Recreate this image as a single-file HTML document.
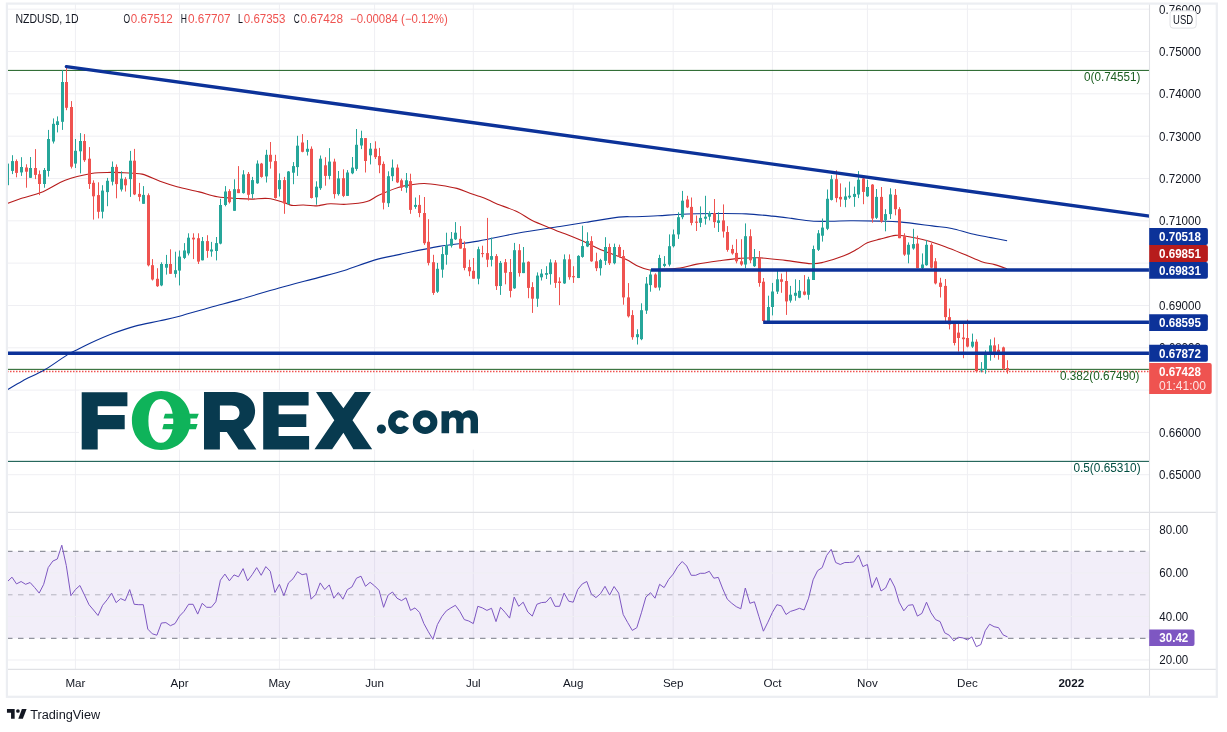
<!DOCTYPE html><html><head><meta charset="utf-8"><style>html,body{margin:0;padding:0;background:#fff;overflow:hidden}svg{will-change:transform}svg text{font-family:"Liberation Sans",sans-serif}</style></head><body><svg width="1227" height="732" viewBox="0 0 1227 732" style="display:block">
<rect width="1227" height="732" fill="#fff"/>
<defs><clipPath id="mp"><rect x="7" y="4" width="1142.5" height="508"/></clipPath><clipPath id="ax"><rect x="1150" y="4.3" width="66" height="508"/></clipPath><clipPath id="rp"><rect x="7" y="513" width="1142.5" height="156"/></clipPath></defs>
<line x1="75.4" y1="3.5" x2="75.4" y2="669.6" stroke="#efeff3" stroke-width="1"/>
<line x1="179.5" y1="3.5" x2="179.5" y2="669.6" stroke="#efeff3" stroke-width="1"/>
<line x1="279.4" y1="3.5" x2="279.4" y2="669.6" stroke="#efeff3" stroke-width="1"/>
<line x1="374.6" y1="3.5" x2="374.6" y2="669.6" stroke="#efeff3" stroke-width="1"/>
<line x1="473.3" y1="3.5" x2="473.3" y2="669.6" stroke="#efeff3" stroke-width="1"/>
<line x1="573.2" y1="3.5" x2="573.2" y2="669.6" stroke="#efeff3" stroke-width="1"/>
<line x1="673.2" y1="3.5" x2="673.2" y2="669.6" stroke="#efeff3" stroke-width="1"/>
<line x1="772.4" y1="3.5" x2="772.4" y2="669.6" stroke="#efeff3" stroke-width="1"/>
<line x1="867.4" y1="3.5" x2="867.4" y2="669.6" stroke="#efeff3" stroke-width="1"/>
<line x1="967.4" y1="3.5" x2="967.4" y2="669.6" stroke="#efeff3" stroke-width="1"/>
<line x1="1071.3" y1="3.5" x2="1071.3" y2="669.6" stroke="#efeff3" stroke-width="1"/>
<line x1="7.0" y1="9.2" x2="1149.5" y2="9.2" stroke="#efeff3" stroke-width="1"/>
<line x1="7.0" y1="51.5" x2="1149.5" y2="51.5" stroke="#efeff3" stroke-width="1"/>
<line x1="7.0" y1="93.8" x2="1149.5" y2="93.8" stroke="#efeff3" stroke-width="1"/>
<line x1="7.0" y1="136.2" x2="1149.5" y2="136.2" stroke="#efeff3" stroke-width="1"/>
<line x1="7.0" y1="178.5" x2="1149.5" y2="178.5" stroke="#efeff3" stroke-width="1"/>
<line x1="7.0" y1="220.8" x2="1149.5" y2="220.8" stroke="#efeff3" stroke-width="1"/>
<line x1="7.0" y1="263.1" x2="1149.5" y2="263.1" stroke="#efeff3" stroke-width="1"/>
<line x1="7.0" y1="305.5" x2="1149.5" y2="305.5" stroke="#efeff3" stroke-width="1"/>
<line x1="7.0" y1="347.8" x2="1149.5" y2="347.8" stroke="#efeff3" stroke-width="1"/>
<line x1="7.0" y1="390.1" x2="1149.5" y2="390.1" stroke="#efeff3" stroke-width="1"/>
<line x1="7.0" y1="432.4" x2="1149.5" y2="432.4" stroke="#efeff3" stroke-width="1"/>
<line x1="7.0" y1="474.7" x2="1149.5" y2="474.7" stroke="#efeff3" stroke-width="1"/>
<rect x="7.0" y="551.3" width="1142.5" height="87.0" fill="#7e57c2" fill-opacity="0.1"/>
<line x1="7.0" y1="529.5" x2="1149.5" y2="529.5" stroke="#efeff3" stroke-width="1"/>
<line x1="7.0" y1="573.0" x2="1149.5" y2="573.0" stroke="#efeff3" stroke-width="1"/>
<line x1="7.0" y1="616.5" x2="1149.5" y2="616.5" stroke="#efeff3" stroke-width="1"/>
<line x1="7.0" y1="660.0" x2="1149.5" y2="660.0" stroke="#efeff3" stroke-width="1"/>
<line x1="7.0" y1="551.3" x2="1149.5" y2="551.3" stroke="#787b86" stroke-opacity="1" stroke-width="1" stroke-dasharray="5.5 5.5"/>
<line x1="7.0" y1="594.8" x2="1149.5" y2="594.8" stroke="#787b86" stroke-opacity="0.5" stroke-width="1" stroke-dasharray="5.5 5.5"/>
<line x1="7.0" y1="638.3" x2="1149.5" y2="638.3" stroke="#787b86" stroke-opacity="1" stroke-width="1" stroke-dasharray="5.5 5.5"/>
<polyline points="7.5,581.5 12.0,577.2 16.5,583.9 21.1,581.5 25.6,584.3 30.1,582.5 34.7,587.6 39.2,593.1 43.7,584.3 48.2,567.6 52.8,561.1 57.3,559.0 61.8,545.2 66.3,565.6 70.9,595.7 75.4,589.6 79.9,585.5 84.5,595.1 89.0,604.7 93.5,610.0 98.0,615.5 102.6,605.3 107.1,599.8 111.6,593.1 116.1,602.6 120.7,598.6 125.2,600.6 129.7,589.6 134.2,604.3 138.8,604.7 143.3,604.7 147.8,629.1 152.3,633.8 156.9,635.2 161.4,623.0 165.9,622.6 170.4,625.7 175.0,623.6 179.5,616.1 184.0,611.4 188.6,604.3 193.1,604.3 197.7,614.1 202.2,603.3 206.7,607.3 211.3,607.3 215.8,601.8 220.4,580.2 224.9,574.1 229.4,580.8 234.0,574.9 238.5,576.8 243.1,568.6 247.6,580.8 252.2,574.7 256.7,567.6 261.2,575.3 265.8,566.6 270.3,571.3 274.9,592.5 279.4,584.3 283.9,595.7 288.5,582.9 293.0,578.8 297.5,571.7 302.1,574.7 306.6,573.7 311.1,599.2 315.7,594.5 320.2,582.9 324.7,589.6 329.3,584.9 333.8,598.2 338.3,592.5 342.9,599.2 347.4,589.6 351.9,587.0 356.5,578.2 361.0,576.2 365.5,586.3 370.1,582.3 374.6,585.9 379.1,590.4 383.6,607.3 388.1,595.1 392.5,592.0 397.0,598.2 401.5,600.6 406.0,597.8 410.5,610.4 415.0,607.9 419.5,612.4 423.9,623.6 428.4,631.8 432.9,639.3 437.4,624.6 441.9,616.5 446.4,610.8 450.9,607.9 455.4,605.3 459.8,611.4 464.3,619.6 468.8,621.0 473.3,623.6 477.8,606.3 482.4,607.9 486.9,610.4 491.5,608.3 496.0,621.6 500.5,607.3 505.1,612.4 509.6,618.1 514.2,597.1 518.7,606.3 523.2,602.2 527.8,612.0 532.3,616.1 536.9,604.3 541.4,602.6 546.0,602.2 550.5,597.1 555.0,606.3 559.6,606.3 564.1,593.1 568.7,601.2 573.2,602.2 577.7,589.6 582.3,583.9 586.8,581.5 591.4,594.1 595.9,597.6 600.5,593.7 605.0,586.3 609.6,595.1 614.1,586.5 618.7,593.1 623.2,614.5 627.7,622.6 632.3,630.4 636.8,627.7 641.4,612.8 645.9,597.1 650.5,592.7 655.0,598.2 659.6,584.3 664.1,587.6 668.7,579.4 673.2,574.1 677.7,566.6 682.2,561.5 686.7,566.0 691.2,575.3 695.7,575.3 700.3,573.3 704.8,573.3 709.3,571.3 713.8,578.2 718.3,577.4 722.8,589.0 727.3,599.2 731.8,603.3 736.3,606.7 740.8,608.8 745.3,588.0 749.9,603.3 754.4,601.8 758.9,616.5 763.4,631.2 767.9,622.2 772.4,612.4 776.9,604.7 781.4,605.9 786.0,614.5 790.5,611.4 795.0,610.0 799.5,608.3 804.1,610.0 808.6,598.2 813.1,579.8 817.6,570.7 822.2,567.6 826.7,555.4 831.2,549.3 835.7,562.5 840.3,564.5 844.8,562.5 849.3,562.5 853.8,561.9 858.4,555.0 862.9,566.6 867.4,564.5 871.9,587.6 876.5,577.4 881.0,591.0 885.6,588.0 890.1,578.2 894.7,587.0 899.2,602.2 903.8,610.8 908.3,605.3 912.9,604.7 917.4,616.1 921.9,613.4 926.5,602.2 931.0,612.8 935.6,619.6 940.1,621.6 944.7,632.8 949.2,635.2 953.8,640.9 958.3,637.3 962.9,637.9 967.4,639.9 971.9,636.9 976.3,646.7 980.8,644.6 985.2,630.8 989.6,624.2 994.1,626.7 998.6,627.7 1003.0,634.8 1007.5,636.9" fill="none" stroke="#7e57c2" stroke-width="1" stroke-linejoin="round"/>
<g clip-path="url(#mp)">
<line x1="7.0" y1="70.4" x2="1149.5" y2="70.4" stroke="#1b5e20" stroke-width="1"/>
<line x1="7.0" y1="369.35" x2="1149.5" y2="369.35" stroke="#1b5e20" stroke-width="1"/>
<line x1="7.0" y1="461.35" x2="1149.5" y2="461.35" stroke="#004d40" stroke-width="1"/>
<line x1="7.0" y1="371.5" x2="1149.5" y2="371.5" stroke="#ef5350" stroke-width="1.5" stroke-dasharray="1.5 1.5"/>
<path d="M7.20,389.90 C9.75,388.40 16.18,384.28 22.50,380.90 C28.82,377.52 37.58,373.98 45.10,369.60 C52.62,365.22 62.10,357.98 67.60,354.60 C73.10,351.22 74.35,351.18 78.10,349.30 C81.85,347.42 84.33,345.92 90.10,343.30 C95.87,340.68 105.18,336.47 112.70,333.60 C120.22,330.73 127.32,328.23 135.20,326.10 C143.08,323.97 152.62,322.45 160.00,320.80 C167.38,319.15 171.17,318.42 179.50,316.20 C187.83,313.98 199.92,310.30 210.00,307.50 C220.08,304.70 228.48,302.65 240.00,299.40 C251.52,296.15 266.07,291.63 279.10,288.00 C292.13,284.37 307.33,280.53 318.20,277.60 C329.07,274.67 334.95,273.32 344.30,270.40 C353.65,267.48 365.02,262.77 374.30,260.10 C383.58,257.43 389.20,256.68 400.00,254.40 C410.80,252.12 426.07,248.62 439.10,246.40 C452.13,244.18 465.17,243.30 478.20,241.10 C491.23,238.90 503.67,235.63 517.30,233.20 C530.93,230.77 548.53,228.32 560.00,226.50 C571.47,224.68 576.32,223.87 586.10,222.30 C595.88,220.73 610.45,218.03 618.70,217.10 C626.95,216.17 629.08,216.92 635.60,216.70 C642.12,216.48 650.85,216.17 657.80,215.80 C664.75,215.43 670.78,214.85 677.30,214.50 C683.82,214.15 689.78,213.87 696.90,213.70 C704.02,213.53 711.80,213.47 720.00,213.50 C728.20,213.53 737.40,213.47 746.10,213.90 C754.80,214.33 764.60,215.35 772.20,216.10 C779.80,216.85 785.18,217.58 791.70,218.40 C798.22,219.22 804.78,220.52 811.30,221.00 C817.82,221.48 824.28,221.33 830.80,221.30 C837.32,221.27 842.20,220.83 850.40,220.80 C858.60,220.77 871.80,220.92 880.00,221.10 C888.20,221.28 890.90,221.10 899.60,221.90 C908.30,222.70 923.52,224.80 932.20,225.90 C940.88,227.00 945.18,227.20 951.70,228.50 C958.22,229.80 964.78,232.18 971.30,233.70 C977.82,235.22 984.83,236.42 990.80,237.60 C996.77,238.78 1004.38,240.27 1007.10,240.80" fill="none" stroke="#0c3299" stroke-width="1.1"/>
<path d="M7.20,203.50 C9.27,202.73 13.63,200.87 19.60,198.90 C25.57,196.93 35.40,194.82 43.00,191.70 C50.60,188.58 57.15,183.23 65.20,180.20 C73.25,177.17 83.70,174.80 91.30,173.50 C98.90,172.20 105.37,172.52 110.80,172.40 C116.23,172.28 118.68,172.52 123.90,172.80 C129.12,173.08 136.08,172.68 142.10,174.10 C148.12,175.52 154.18,179.20 160.00,181.30 C165.82,183.40 170.48,184.93 177.00,186.70 C183.52,188.47 192.37,190.22 199.10,191.90 C205.83,193.58 210.88,195.70 217.40,196.80 C223.92,197.90 232.55,198.12 238.20,198.50 C243.85,198.88 246.30,199.10 251.30,199.10 C256.30,199.10 262.77,197.95 268.20,198.50 C273.63,199.05 279.98,201.25 283.90,202.40 C287.82,203.55 288.45,204.97 291.70,205.40 C294.95,205.83 299.50,204.92 303.40,205.00 C307.30,205.08 312.33,205.83 315.10,205.90 C317.87,205.97 317.45,205.77 320.00,205.40 C322.55,205.03 326.05,203.88 330.40,203.70 C334.75,203.52 340.02,204.67 346.10,204.30 C352.18,203.93 361.47,203.02 366.90,201.50 C372.33,199.98 373.48,197.55 378.70,195.20 C383.92,192.85 392.77,189.13 398.20,187.40 C403.63,185.67 406.95,185.45 411.30,184.80 C415.65,184.15 419.52,183.43 424.30,183.50 C429.08,183.57 434.57,184.38 440.00,185.20 C445.43,186.02 451.92,187.07 456.90,188.40 C461.88,189.73 466.05,191.85 469.90,193.20 C473.75,194.55 476.87,195.37 480.00,196.50 C483.13,197.63 485.95,198.80 488.70,200.00 C491.45,201.20 491.73,201.75 496.50,203.70 C501.27,205.65 511.43,208.95 517.30,211.70 C523.17,214.45 526.25,217.48 531.70,220.20 C537.15,222.92 545.28,226.05 550.00,228.00 C554.72,229.95 554.85,229.87 560.00,231.90 C565.15,233.93 573.73,237.08 580.90,240.20 C588.07,243.32 595.62,247.45 603.00,250.60 C610.38,253.75 619.33,256.48 625.20,259.10 C631.07,261.72 634.28,264.52 638.20,266.30 C642.12,268.08 645.43,269.27 648.70,269.80 C651.97,270.33 652.58,269.80 657.80,269.50 C663.02,269.20 673.48,268.90 680.00,268.00 C686.52,267.10 690.23,265.32 696.90,264.10 C703.57,262.88 712.88,261.65 720.00,260.70 C727.12,259.75 733.08,258.88 739.60,258.40 C746.12,257.92 751.50,257.47 759.10,257.80 C766.70,258.13 776.50,259.42 785.20,260.40 C793.90,261.38 804.78,263.43 811.30,263.70 C817.82,263.97 818.87,263.32 824.30,262.00 C829.73,260.68 838.47,257.92 843.90,255.80 C849.33,253.68 853.00,251.47 856.90,249.30 C860.80,247.13 863.45,244.50 867.30,242.80 C871.15,241.10 875.28,240.33 880.00,239.10 C884.72,237.87 891.25,235.87 895.60,235.40 C899.95,234.93 901.10,235.50 906.10,236.30 C911.10,237.10 919.08,238.47 925.60,240.20 C932.12,241.93 938.68,244.32 945.20,246.70 C951.72,249.08 958.62,252.00 964.70,254.50 C970.78,257.00 976.70,260.02 981.70,261.70 C986.70,263.38 990.47,263.40 994.70,264.60 C998.93,265.80 1005.03,268.18 1007.10,268.90" fill="none" stroke="#b71c1c" stroke-width="1.1"/>
<rect x="7.0" y="163.1" width="1" height="22.1" fill="#26a69a"/>
<rect x="6.0" y="163.6" width="3" height="21.6" fill="#26a69a"/>
<rect x="12.0" y="155.2" width="1" height="18.9" fill="#26a69a"/>
<rect x="11.0" y="161.1" width="3" height="9.8" fill="#26a69a"/>
<rect x="16.0" y="159.4" width="1" height="17.9" fill="#ef5350"/>
<rect x="15.0" y="161.1" width="3" height="11.8" fill="#ef5350"/>
<rect x="21.0" y="157.2" width="1" height="18.7" fill="#26a69a"/>
<rect x="20.0" y="167.0" width="3" height="5.4" fill="#26a69a"/>
<rect x="26.0" y="164.3" width="1" height="23.4" fill="#ef5350"/>
<rect x="25.0" y="167.5" width="3" height="4.2" fill="#ef5350"/>
<rect x="30.0" y="157.0" width="1" height="20.9" fill="#26a69a"/>
<rect x="29.0" y="168.0" width="3" height="9.8" fill="#26a69a"/>
<rect x="35.0" y="149.1" width="1" height="30.0" fill="#ef5350"/>
<rect x="34.0" y="168.0" width="3" height="6.9" fill="#ef5350"/>
<rect x="39.0" y="170.5" width="1" height="24.6" fill="#ef5350"/>
<rect x="38.0" y="174.2" width="3" height="9.8" fill="#ef5350"/>
<rect x="44.0" y="168.0" width="1" height="19.7" fill="#26a69a"/>
<rect x="43.0" y="170.0" width="3" height="14.0" fill="#26a69a"/>
<rect x="48.0" y="129.9" width="1" height="46.7" fill="#26a69a"/>
<rect x="47.0" y="139.0" width="3" height="32.0" fill="#26a69a"/>
<rect x="53.0" y="118.4" width="1" height="25.1" fill="#26a69a"/>
<rect x="52.0" y="123.8" width="3" height="17.7" fill="#26a69a"/>
<rect x="57.0" y="116.4" width="1" height="16.0" fill="#26a69a"/>
<rect x="56.0" y="121.3" width="3" height="3.7" fill="#26a69a"/>
<rect x="62.0" y="70.2" width="1" height="59.7" fill="#26a69a"/>
<rect x="61.0" y="82.0" width="3" height="39.8" fill="#26a69a"/>
<rect x="66.0" y="65.2" width="1" height="45.0" fill="#ef5350"/>
<rect x="65.0" y="82.0" width="3" height="25.8" fill="#ef5350"/>
<rect x="71.0" y="101.1" width="1" height="67.4" fill="#ef5350"/>
<rect x="70.0" y="107.0" width="3" height="59.7" fill="#ef5350"/>
<rect x="75.0" y="139.0" width="1" height="29.0" fill="#26a69a"/>
<rect x="74.0" y="150.8" width="3" height="12.8" fill="#26a69a"/>
<rect x="80.0" y="133.1" width="1" height="40.3" fill="#26a69a"/>
<rect x="79.0" y="141.0" width="3" height="10.3" fill="#26a69a"/>
<rect x="84.0" y="134.1" width="1" height="27.8" fill="#ef5350"/>
<rect x="83.0" y="141.0" width="3" height="19.2" fill="#ef5350"/>
<rect x="89.0" y="147.1" width="1" height="41.8" fill="#ef5350"/>
<rect x="88.0" y="158.7" width="3" height="25.3" fill="#ef5350"/>
<rect x="93.0" y="180.3" width="1" height="39.3" fill="#ef5350"/>
<rect x="92.0" y="182.8" width="3" height="13.5" fill="#ef5350"/>
<rect x="98.0" y="182.3" width="1" height="36.1" fill="#ef5350"/>
<rect x="97.0" y="195.1" width="3" height="16.7" fill="#ef5350"/>
<rect x="102.0" y="185.2" width="1" height="33.2" fill="#26a69a"/>
<rect x="101.0" y="190.6" width="3" height="21.1" fill="#26a69a"/>
<rect x="107.0" y="177.9" width="1" height="28.3" fill="#26a69a"/>
<rect x="106.0" y="180.8" width="3" height="11.3" fill="#26a69a"/>
<rect x="112.0" y="161.5" width="1" height="23.9" fill="#26a69a"/>
<rect x="111.0" y="166.9" width="3" height="14.8" fill="#26a69a"/>
<rect x="116.0" y="164.4" width="1" height="33.9" fill="#ef5350"/>
<rect x="115.0" y="166.9" width="3" height="17.2" fill="#ef5350"/>
<rect x="121.0" y="171.3" width="1" height="20.2" fill="#26a69a"/>
<rect x="120.0" y="178.7" width="3" height="10.8" fill="#26a69a"/>
<rect x="125.0" y="177.2" width="1" height="14.3" fill="#ef5350"/>
<rect x="124.0" y="179.2" width="3" height="6.1" fill="#ef5350"/>
<rect x="130.0" y="150.9" width="1" height="46.0" fill="#26a69a"/>
<rect x="129.0" y="160.7" width="3" height="18.4" fill="#26a69a"/>
<rect x="134.0" y="148.9" width="1" height="46.2" fill="#ef5350"/>
<rect x="133.0" y="160.7" width="3" height="33.7" fill="#ef5350"/>
<rect x="139.0" y="182.9" width="1" height="18.4" fill="#ef5350"/>
<rect x="138.0" y="193.9" width="3" height="3.0" fill="#ef5350"/>
<rect x="143.0" y="186.1" width="1" height="17.7" fill="#26a69a"/>
<rect x="142.0" y="194.9" width="3" height="8.9" fill="#26a69a"/>
<rect x="148.0" y="193.4" width="1" height="73.0" fill="#ef5350"/>
<rect x="147.0" y="195.2" width="3" height="70.1" fill="#ef5350"/>
<rect x="152.0" y="259.1" width="1" height="21.4" fill="#ef5350"/>
<rect x="151.0" y="265.2" width="3" height="14.3" fill="#ef5350"/>
<rect x="157.0" y="268.2" width="1" height="18.7" fill="#ef5350"/>
<rect x="156.0" y="278.8" width="3" height="7.4" fill="#ef5350"/>
<rect x="161.0" y="262.3" width="1" height="23.9" fill="#26a69a"/>
<rect x="160.0" y="264.0" width="3" height="21.4" fill="#26a69a"/>
<rect x="166.0" y="254.9" width="1" height="19.7" fill="#26a69a"/>
<rect x="165.0" y="264.0" width="3" height="3.7" fill="#26a69a"/>
<rect x="170.0" y="249.3" width="1" height="24.6" fill="#ef5350"/>
<rect x="169.0" y="264.0" width="3" height="9.8" fill="#ef5350"/>
<rect x="175.0" y="251.7" width="1" height="25.8" fill="#26a69a"/>
<rect x="174.0" y="270.2" width="3" height="3.7" fill="#26a69a"/>
<rect x="179.0" y="250.5" width="1" height="34.9" fill="#26a69a"/>
<rect x="178.0" y="256.6" width="3" height="14.0" fill="#26a69a"/>
<rect x="184.0" y="243.1" width="1" height="16.0" fill="#26a69a"/>
<rect x="183.0" y="250.5" width="3" height="7.4" fill="#26a69a"/>
<rect x="188.0" y="233.3" width="1" height="22.1" fill="#26a69a"/>
<rect x="187.0" y="237.7" width="3" height="15.7" fill="#26a69a"/>
<rect x="193.0" y="233.3" width="1" height="25.8" fill="#ef5350"/>
<rect x="192.0" y="237.7" width="3" height="1.7" fill="#ef5350"/>
<rect x="198.0" y="233.3" width="1" height="30.7" fill="#ef5350"/>
<rect x="197.0" y="238.2" width="3" height="23.4" fill="#ef5350"/>
<rect x="202.0" y="237.0" width="1" height="23.4" fill="#26a69a"/>
<rect x="201.0" y="241.1" width="3" height="19.2" fill="#26a69a"/>
<rect x="207.0" y="235.2" width="1" height="22.6" fill="#ef5350"/>
<rect x="206.0" y="241.1" width="3" height="9.8" fill="#ef5350"/>
<rect x="211.0" y="241.9" width="1" height="14.8" fill="#26a69a"/>
<rect x="210.0" y="249.5" width="3" height="2.0" fill="#26a69a"/>
<rect x="216.0" y="237.0" width="1" height="23.4" fill="#26a69a"/>
<rect x="215.0" y="243.1" width="3" height="7.9" fill="#26a69a"/>
<rect x="220.0" y="198.8" width="1" height="45.5" fill="#26a69a"/>
<rect x="219.0" y="205.0" width="3" height="38.6" fill="#26a69a"/>
<rect x="225.0" y="186.1" width="1" height="20.2" fill="#26a69a"/>
<rect x="224.0" y="191.5" width="3" height="13.5" fill="#26a69a"/>
<rect x="229.0" y="189.2" width="1" height="14.3" fill="#ef5350"/>
<rect x="228.0" y="191.1" width="3" height="11.1" fill="#ef5350"/>
<rect x="234.0" y="179.3" width="1" height="31.5" fill="#26a69a"/>
<rect x="233.0" y="189.2" width="3" height="21.6" fill="#26a69a"/>
<rect x="238.0" y="166.1" width="1" height="27.0" fill="#ef5350"/>
<rect x="237.0" y="189.2" width="3" height="3.9" fill="#ef5350"/>
<rect x="243.0" y="170.2" width="1" height="23.4" fill="#26a69a"/>
<rect x="242.0" y="174.4" width="3" height="18.7" fill="#26a69a"/>
<rect x="248.0" y="172.0" width="1" height="28.5" fill="#ef5350"/>
<rect x="247.0" y="173.9" width="3" height="20.9" fill="#ef5350"/>
<rect x="252.0" y="176.9" width="1" height="21.6" fill="#26a69a"/>
<rect x="251.0" y="180.1" width="3" height="14.0" fill="#26a69a"/>
<rect x="257.0" y="160.4" width="1" height="23.4" fill="#26a69a"/>
<rect x="256.0" y="163.6" width="3" height="19.7" fill="#26a69a"/>
<rect x="261.0" y="162.9" width="1" height="14.8" fill="#ef5350"/>
<rect x="260.0" y="163.6" width="3" height="13.3" fill="#ef5350"/>
<rect x="266.0" y="149.8" width="1" height="32.7" fill="#26a69a"/>
<rect x="265.0" y="154.8" width="3" height="21.6" fill="#26a69a"/>
<rect x="270.0" y="142.0" width="1" height="26.6" fill="#ef5350"/>
<rect x="269.0" y="154.8" width="3" height="6.9" fill="#ef5350"/>
<rect x="275.0" y="154.8" width="1" height="43.8" fill="#ef5350"/>
<rect x="274.0" y="161.1" width="3" height="36.9" fill="#ef5350"/>
<rect x="279.0" y="173.4" width="1" height="23.1" fill="#26a69a"/>
<rect x="278.0" y="180.1" width="3" height="9.1" fill="#26a69a"/>
<rect x="284.0" y="176.9" width="1" height="36.9" fill="#ef5350"/>
<rect x="283.0" y="180.1" width="3" height="23.4" fill="#ef5350"/>
<rect x="288.0" y="171.0" width="1" height="33.7" fill="#26a69a"/>
<rect x="287.0" y="171.5" width="3" height="32.5" fill="#26a69a"/>
<rect x="293.0" y="162.1" width="1" height="22.1" fill="#26a69a"/>
<rect x="292.0" y="166.1" width="3" height="6.6" fill="#26a69a"/>
<rect x="297.0" y="135.8" width="1" height="40.1" fill="#26a69a"/>
<rect x="296.0" y="145.7" width="3" height="21.4" fill="#26a69a"/>
<rect x="302.0" y="134.1" width="1" height="18.2" fill="#ef5350"/>
<rect x="301.0" y="142.5" width="3" height="9.3" fill="#ef5350"/>
<rect x="307.0" y="140.0" width="1" height="15.5" fill="#26a69a"/>
<rect x="306.0" y="148.8" width="3" height="3.0" fill="#26a69a"/>
<rect x="311.0" y="146.4" width="1" height="52.1" fill="#ef5350"/>
<rect x="310.0" y="148.8" width="3" height="49.2" fill="#ef5350"/>
<rect x="316.0" y="181.3" width="1" height="23.4" fill="#26a69a"/>
<rect x="315.0" y="186.7" width="3" height="10.6" fill="#26a69a"/>
<rect x="320.0" y="155.5" width="1" height="34.4" fill="#26a69a"/>
<rect x="319.0" y="158.7" width="3" height="29.5" fill="#26a69a"/>
<rect x="325.0" y="157.2" width="1" height="28.5" fill="#ef5350"/>
<rect x="324.0" y="165.3" width="3" height="10.6" fill="#ef5350"/>
<rect x="329.0" y="148.1" width="1" height="31.2" fill="#26a69a"/>
<rect x="328.0" y="161.6" width="3" height="14.3" fill="#26a69a"/>
<rect x="334.0" y="158.7" width="1" height="39.8" fill="#ef5350"/>
<rect x="333.0" y="161.6" width="3" height="32.5" fill="#ef5350"/>
<rect x="338.0" y="171.0" width="1" height="24.6" fill="#26a69a"/>
<rect x="337.0" y="178.4" width="3" height="15.7" fill="#26a69a"/>
<rect x="343.0" y="169.3" width="1" height="27.8" fill="#ef5350"/>
<rect x="342.0" y="178.2" width="3" height="17.7" fill="#ef5350"/>
<rect x="347.0" y="170.1" width="1" height="25.8" fill="#26a69a"/>
<rect x="346.0" y="172.5" width="3" height="23.4" fill="#26a69a"/>
<rect x="352.0" y="157.0" width="1" height="17.2" fill="#26a69a"/>
<rect x="351.0" y="167.6" width="3" height="5.7" fill="#26a69a"/>
<rect x="356.0" y="129.0" width="1" height="41.8" fill="#26a69a"/>
<rect x="355.0" y="144.8" width="3" height="24.1" fill="#26a69a"/>
<rect x="361.0" y="130.7" width="1" height="18.4" fill="#26a69a"/>
<rect x="360.0" y="138.1" width="3" height="7.4" fill="#26a69a"/>
<rect x="365.0" y="138.1" width="1" height="34.4" fill="#ef5350"/>
<rect x="364.0" y="138.1" width="3" height="22.9" fill="#ef5350"/>
<rect x="370.0" y="143.0" width="1" height="21.4" fill="#26a69a"/>
<rect x="369.0" y="148.7" width="3" height="6.6" fill="#26a69a"/>
<rect x="375.0" y="141.3" width="1" height="17.7" fill="#ef5350"/>
<rect x="374.0" y="148.7" width="3" height="8.4" fill="#ef5350"/>
<rect x="379.0" y="147.9" width="1" height="25.3" fill="#ef5350"/>
<rect x="378.0" y="156.1" width="3" height="9.1" fill="#ef5350"/>
<rect x="383.0" y="161.5" width="1" height="47.9" fill="#ef5350"/>
<rect x="382.0" y="163.9" width="3" height="38.8" fill="#ef5350"/>
<rect x="388.0" y="171.3" width="1" height="35.7" fill="#26a69a"/>
<rect x="387.0" y="176.2" width="3" height="27.0" fill="#26a69a"/>
<rect x="392.0" y="159.5" width="1" height="21.6" fill="#26a69a"/>
<rect x="391.0" y="167.6" width="3" height="8.6" fill="#26a69a"/>
<rect x="397.0" y="164.4" width="1" height="18.7" fill="#ef5350"/>
<rect x="396.0" y="167.6" width="3" height="14.8" fill="#ef5350"/>
<rect x="401.0" y="178.6" width="1" height="12.3" fill="#ef5350"/>
<rect x="400.0" y="180.3" width="3" height="7.4" fill="#ef5350"/>
<rect x="406.0" y="173.0" width="1" height="19.7" fill="#26a69a"/>
<rect x="405.0" y="180.3" width="3" height="7.4" fill="#26a69a"/>
<rect x="410.0" y="173.7" width="1" height="40.1" fill="#ef5350"/>
<rect x="409.0" y="181.1" width="3" height="28.8" fill="#ef5350"/>
<rect x="415.0" y="197.5" width="1" height="11.3" fill="#26a69a"/>
<rect x="414.0" y="204.9" width="3" height="2.0" fill="#26a69a"/>
<rect x="419.0" y="195.1" width="1" height="22.1" fill="#ef5350"/>
<rect x="418.0" y="204.9" width="3" height="8.1" fill="#ef5350"/>
<rect x="424.0" y="197.0" width="1" height="47.9" fill="#ef5350"/>
<rect x="423.0" y="213.0" width="3" height="30.2" fill="#ef5350"/>
<rect x="428.0" y="219.2" width="1" height="46.2" fill="#ef5350"/>
<rect x="427.0" y="241.8" width="3" height="21.1" fill="#ef5350"/>
<rect x="433.0" y="254.8" width="1" height="40.1" fill="#ef5350"/>
<rect x="432.0" y="262.2" width="3" height="30.7" fill="#ef5350"/>
<rect x="437.0" y="262.9" width="1" height="30.0" fill="#26a69a"/>
<rect x="436.0" y="268.8" width="3" height="22.9" fill="#26a69a"/>
<rect x="442.0" y="246.7" width="1" height="31.0" fill="#26a69a"/>
<rect x="441.0" y="254.1" width="3" height="15.5" fill="#26a69a"/>
<rect x="446.0" y="232.7" width="1" height="32.0" fill="#26a69a"/>
<rect x="445.0" y="245.0" width="3" height="9.8" fill="#26a69a"/>
<rect x="451.0" y="232.0" width="1" height="15.5" fill="#26a69a"/>
<rect x="450.0" y="238.8" width="3" height="6.9" fill="#26a69a"/>
<rect x="455.0" y="222.1" width="1" height="17.9" fill="#26a69a"/>
<rect x="454.0" y="232.7" width="3" height="6.6" fill="#26a69a"/>
<rect x="460.0" y="226.1" width="1" height="22.6" fill="#ef5350"/>
<rect x="459.0" y="238.8" width="3" height="9.8" fill="#ef5350"/>
<rect x="464.0" y="241.3" width="1" height="29.0" fill="#ef5350"/>
<rect x="463.0" y="248.2" width="3" height="19.7" fill="#ef5350"/>
<rect x="469.0" y="259.7" width="1" height="16.5" fill="#ef5350"/>
<rect x="468.0" y="267.1" width="3" height="4.2" fill="#ef5350"/>
<rect x="473.0" y="258.0" width="1" height="20.7" fill="#ef5350"/>
<rect x="472.0" y="270.8" width="3" height="7.9" fill="#ef5350"/>
<rect x="478.0" y="246.7" width="1" height="37.6" fill="#26a69a"/>
<rect x="477.0" y="249.2" width="3" height="29.5" fill="#26a69a"/>
<rect x="482.0" y="245.7" width="1" height="11.6" fill="#ef5350"/>
<rect x="481.0" y="253.1" width="3" height="1.0" fill="#ef5350"/>
<rect x="487.0" y="217.9" width="1" height="49.2" fill="#ef5350"/>
<rect x="486.0" y="253.1" width="3" height="6.6" fill="#ef5350"/>
<rect x="491.0" y="237.6" width="1" height="28.8" fill="#26a69a"/>
<rect x="490.0" y="256.1" width="3" height="3.7" fill="#26a69a"/>
<rect x="496.0" y="254.1" width="1" height="35.9" fill="#ef5350"/>
<rect x="495.0" y="256.1" width="3" height="30.0" fill="#ef5350"/>
<rect x="500.0" y="261.0" width="1" height="33.9" fill="#26a69a"/>
<rect x="499.0" y="262.9" width="3" height="23.1" fill="#26a69a"/>
<rect x="505.0" y="259.0" width="1" height="25.3" fill="#ef5350"/>
<rect x="504.0" y="262.2" width="3" height="10.6" fill="#ef5350"/>
<rect x="510.0" y="259.0" width="1" height="38.4" fill="#ef5350"/>
<rect x="509.0" y="272.0" width="3" height="18.9" fill="#ef5350"/>
<rect x="514.0" y="242.9" width="1" height="46.0" fill="#26a69a"/>
<rect x="513.0" y="250.2" width="3" height="38.1" fill="#26a69a"/>
<rect x="519.0" y="244.1" width="1" height="32.5" fill="#ef5350"/>
<rect x="518.0" y="250.2" width="3" height="22.9" fill="#ef5350"/>
<rect x="523.0" y="247.0" width="1" height="26.1" fill="#26a69a"/>
<rect x="522.0" y="262.5" width="3" height="10.6" fill="#26a69a"/>
<rect x="528.0" y="261.3" width="1" height="36.9" fill="#ef5350"/>
<rect x="527.0" y="261.8" width="3" height="26.1" fill="#ef5350"/>
<rect x="532.0" y="282.2" width="1" height="30.7" fill="#ef5350"/>
<rect x="531.0" y="287.1" width="3" height="11.6" fill="#ef5350"/>
<rect x="537.0" y="272.4" width="1" height="34.4" fill="#26a69a"/>
<rect x="536.0" y="275.6" width="3" height="23.1" fill="#26a69a"/>
<rect x="541.0" y="269.2" width="1" height="11.3" fill="#26a69a"/>
<rect x="540.0" y="273.6" width="3" height="3.7" fill="#26a69a"/>
<rect x="546.0" y="266.2" width="1" height="12.8" fill="#26a69a"/>
<rect x="545.0" y="273.1" width="3" height="1.7" fill="#26a69a"/>
<rect x="550.0" y="259.3" width="1" height="25.3" fill="#26a69a"/>
<rect x="549.0" y="262.5" width="3" height="11.6" fill="#26a69a"/>
<rect x="555.0" y="260.1" width="1" height="27.8" fill="#ef5350"/>
<rect x="554.0" y="262.5" width="3" height="20.4" fill="#ef5350"/>
<rect x="559.0" y="277.3" width="1" height="27.8" fill="#ef5350"/>
<rect x="558.0" y="281.5" width="3" height="1.5" fill="#ef5350"/>
<rect x="564.0" y="254.4" width="1" height="29.5" fill="#26a69a"/>
<rect x="563.0" y="259.3" width="3" height="24.1" fill="#26a69a"/>
<rect x="569.0" y="254.4" width="1" height="25.3" fill="#ef5350"/>
<rect x="568.0" y="259.3" width="3" height="17.9" fill="#ef5350"/>
<rect x="573.0" y="266.2" width="1" height="16.7" fill="#ef5350"/>
<rect x="572.0" y="276.1" width="3" height="1.2" fill="#ef5350"/>
<rect x="578.0" y="255.2" width="1" height="22.9" fill="#26a69a"/>
<rect x="577.0" y="255.9" width="3" height="22.1" fill="#26a69a"/>
<rect x="582.0" y="225.7" width="1" height="32.0" fill="#26a69a"/>
<rect x="581.0" y="246.1" width="3" height="10.8" fill="#26a69a"/>
<rect x="587.0" y="232.3" width="1" height="14.8" fill="#26a69a"/>
<rect x="586.0" y="241.1" width="3" height="5.4" fill="#26a69a"/>
<rect x="591.0" y="236.2" width="1" height="25.6" fill="#ef5350"/>
<rect x="590.0" y="241.1" width="3" height="20.2" fill="#ef5350"/>
<rect x="596.0" y="252.7" width="1" height="18.4" fill="#ef5350"/>
<rect x="595.0" y="261.3" width="3" height="6.9" fill="#ef5350"/>
<rect x="600.0" y="258.8" width="1" height="16.7" fill="#26a69a"/>
<rect x="599.0" y="260.1" width="3" height="8.1" fill="#26a69a"/>
<rect x="605.0" y="237.2" width="1" height="27.8" fill="#26a69a"/>
<rect x="604.0" y="247.0" width="3" height="13.8" fill="#26a69a"/>
<rect x="609.0" y="243.6" width="1" height="21.4" fill="#ef5350"/>
<rect x="608.0" y="247.0" width="3" height="16.2" fill="#ef5350"/>
<rect x="614.0" y="243.6" width="1" height="20.7" fill="#26a69a"/>
<rect x="613.0" y="247.0" width="3" height="16.2" fill="#26a69a"/>
<rect x="619.0" y="244.6" width="1" height="13.0" fill="#ef5350"/>
<rect x="618.0" y="247.0" width="3" height="9.8" fill="#ef5350"/>
<rect x="623.0" y="249.9" width="1" height="54.8" fill="#ef5350"/>
<rect x="622.0" y="256.1" width="3" height="41.3" fill="#ef5350"/>
<rect x="628.0" y="283.1" width="1" height="34.4" fill="#ef5350"/>
<rect x="627.0" y="297.4" width="3" height="18.9" fill="#ef5350"/>
<rect x="632.0" y="310.2" width="1" height="29.5" fill="#ef5350"/>
<rect x="631.0" y="315.1" width="3" height="22.1" fill="#ef5350"/>
<rect x="637.0" y="329.3" width="1" height="15.2" fill="#26a69a"/>
<rect x="636.0" y="334.2" width="3" height="3.0" fill="#26a69a"/>
<rect x="641.0" y="303.3" width="1" height="36.9" fill="#26a69a"/>
<rect x="640.0" y="310.2" width="3" height="29.0" fill="#26a69a"/>
<rect x="646.0" y="277.0" width="1" height="36.9" fill="#26a69a"/>
<rect x="645.0" y="283.6" width="3" height="27.0" fill="#26a69a"/>
<rect x="650.0" y="269.6" width="1" height="22.1" fill="#26a69a"/>
<rect x="649.0" y="274.5" width="3" height="10.6" fill="#26a69a"/>
<rect x="655.0" y="273.3" width="1" height="14.8" fill="#ef5350"/>
<rect x="654.0" y="274.5" width="3" height="13.0" fill="#ef5350"/>
<rect x="659.0" y="254.8" width="1" height="35.7" fill="#26a69a"/>
<rect x="658.0" y="258.0" width="3" height="29.5" fill="#26a69a"/>
<rect x="664.0" y="256.1" width="1" height="11.1" fill="#26a69a"/>
<rect x="663.0" y="263.9" width="3" height="2.0" fill="#26a69a"/>
<rect x="669.0" y="234.4" width="1" height="32.0" fill="#26a69a"/>
<rect x="668.0" y="246.2" width="3" height="18.4" fill="#26a69a"/>
<rect x="673.0" y="229.5" width="1" height="17.9" fill="#26a69a"/>
<rect x="672.0" y="234.4" width="3" height="11.8" fill="#26a69a"/>
<rect x="678.0" y="212.3" width="1" height="26.6" fill="#26a69a"/>
<rect x="677.0" y="217.2" width="3" height="17.2" fill="#26a69a"/>
<rect x="682.0" y="190.9" width="1" height="28.3" fill="#26a69a"/>
<rect x="681.0" y="200.7" width="3" height="16.5" fill="#26a69a"/>
<rect x="687.0" y="195.8" width="1" height="12.3" fill="#ef5350"/>
<rect x="686.0" y="199.5" width="3" height="7.9" fill="#ef5350"/>
<rect x="691.0" y="197.5" width="1" height="27.8" fill="#ef5350"/>
<rect x="690.0" y="206.9" width="3" height="16.0" fill="#ef5350"/>
<rect x="696.0" y="215.5" width="1" height="15.5" fill="#ef5350"/>
<rect x="695.0" y="221.6" width="3" height="1.2" fill="#ef5350"/>
<rect x="700.0" y="206.4" width="1" height="20.7" fill="#26a69a"/>
<rect x="699.0" y="217.9" width="3" height="4.9" fill="#26a69a"/>
<rect x="705.0" y="195.8" width="1" height="28.8" fill="#26a69a"/>
<rect x="704.0" y="216.7" width="3" height="2.0" fill="#26a69a"/>
<rect x="709.0" y="211.3" width="1" height="9.1" fill="#26a69a"/>
<rect x="708.0" y="213.0" width="3" height="3.7" fill="#26a69a"/>
<rect x="714.0" y="199.0" width="1" height="28.8" fill="#ef5350"/>
<rect x="713.0" y="213.0" width="3" height="9.1" fill="#ef5350"/>
<rect x="718.0" y="212.3" width="1" height="19.7" fill="#26a69a"/>
<rect x="717.0" y="220.4" width="3" height="2.5" fill="#26a69a"/>
<rect x="723.0" y="204.4" width="1" height="33.2" fill="#ef5350"/>
<rect x="722.0" y="220.4" width="3" height="11.1" fill="#ef5350"/>
<rect x="727.0" y="226.1" width="1" height="25.6" fill="#ef5350"/>
<rect x="726.0" y="232.0" width="3" height="17.9" fill="#ef5350"/>
<rect x="732.0" y="244.8" width="1" height="9.8" fill="#ef5350"/>
<rect x="731.0" y="249.0" width="3" height="4.4" fill="#ef5350"/>
<rect x="736.0" y="239.2" width="1" height="24.1" fill="#ef5350"/>
<rect x="735.0" y="252.9" width="3" height="8.4" fill="#ef5350"/>
<rect x="741.0" y="239.2" width="1" height="26.6" fill="#ef5350"/>
<rect x="740.0" y="261.3" width="3" height="3.2" fill="#ef5350"/>
<rect x="745.0" y="223.4" width="1" height="44.8" fill="#26a69a"/>
<rect x="744.0" y="236.2" width="3" height="28.3" fill="#26a69a"/>
<rect x="750.0" y="229.3" width="1" height="33.9" fill="#ef5350"/>
<rect x="749.0" y="236.2" width="3" height="24.1" fill="#ef5350"/>
<rect x="754.0" y="249.0" width="1" height="17.9" fill="#26a69a"/>
<rect x="753.0" y="257.1" width="3" height="9.1" fill="#26a69a"/>
<rect x="759.0" y="251.0" width="1" height="35.7" fill="#ef5350"/>
<rect x="758.0" y="257.9" width="3" height="25.1" fill="#ef5350"/>
<rect x="763.0" y="278.0" width="1" height="44.3" fill="#ef5350"/>
<rect x="762.0" y="281.7" width="3" height="39.3" fill="#ef5350"/>
<rect x="768.0" y="295.7" width="1" height="26.6" fill="#26a69a"/>
<rect x="767.0" y="307.0" width="3" height="14.0" fill="#26a69a"/>
<rect x="772.0" y="282.9" width="1" height="32.5" fill="#26a69a"/>
<rect x="771.0" y="291.5" width="3" height="15.5" fill="#26a69a"/>
<rect x="777.0" y="270.6" width="1" height="23.4" fill="#26a69a"/>
<rect x="776.0" y="279.3" width="3" height="12.3" fill="#26a69a"/>
<rect x="781.0" y="273.6" width="1" height="19.2" fill="#ef5350"/>
<rect x="780.0" y="279.3" width="3" height="2.5" fill="#ef5350"/>
<rect x="786.0" y="271.1" width="1" height="43.8" fill="#ef5350"/>
<rect x="785.0" y="281.0" width="3" height="20.4" fill="#ef5350"/>
<rect x="790.0" y="285.9" width="1" height="16.7" fill="#26a69a"/>
<rect x="789.0" y="294.7" width="3" height="5.9" fill="#26a69a"/>
<rect x="795.0" y="279.3" width="1" height="21.4" fill="#26a69a"/>
<rect x="794.0" y="292.8" width="3" height="3.0" fill="#26a69a"/>
<rect x="799.0" y="280.0" width="1" height="18.2" fill="#26a69a"/>
<rect x="798.0" y="290.8" width="3" height="6.9" fill="#26a69a"/>
<rect x="804.0" y="275.1" width="1" height="20.2" fill="#ef5350"/>
<rect x="803.0" y="291.5" width="3" height="3.2" fill="#ef5350"/>
<rect x="808.0" y="276.8" width="1" height="22.9" fill="#26a69a"/>
<rect x="807.0" y="279.3" width="3" height="15.5" fill="#26a69a"/>
<rect x="813.0" y="245.6" width="1" height="34.4" fill="#26a69a"/>
<rect x="812.0" y="249.0" width="3" height="31.0" fill="#26a69a"/>
<rect x="818.0" y="230.1" width="1" height="20.9" fill="#26a69a"/>
<rect x="817.0" y="233.3" width="3" height="16.5" fill="#26a69a"/>
<rect x="822.0" y="218.5" width="1" height="23.1" fill="#26a69a"/>
<rect x="821.0" y="227.6" width="3" height="8.1" fill="#26a69a"/>
<rect x="827.0" y="189.5" width="1" height="40.6" fill="#26a69a"/>
<rect x="826.0" y="198.8" width="3" height="30.0" fill="#26a69a"/>
<rect x="831.0" y="175.2" width="1" height="25.3" fill="#26a69a"/>
<rect x="830.0" y="179.2" width="3" height="20.7" fill="#26a69a"/>
<rect x="836.0" y="170.3" width="1" height="32.0" fill="#ef5350"/>
<rect x="835.0" y="179.2" width="3" height="18.9" fill="#ef5350"/>
<rect x="840.0" y="183.4" width="1" height="23.4" fill="#ef5350"/>
<rect x="839.0" y="196.9" width="3" height="2.5" fill="#ef5350"/>
<rect x="845.0" y="187.5" width="1" height="19.7" fill="#26a69a"/>
<rect x="844.0" y="196.4" width="3" height="3.4" fill="#26a69a"/>
<rect x="849.0" y="181.6" width="1" height="17.2" fill="#26a69a"/>
<rect x="848.0" y="195.7" width="3" height="1.7" fill="#26a69a"/>
<rect x="854.0" y="186.6" width="1" height="20.2" fill="#26a69a"/>
<rect x="853.0" y="193.9" width="3" height="3.0" fill="#26a69a"/>
<rect x="858.0" y="171.1" width="1" height="27.0" fill="#26a69a"/>
<rect x="857.0" y="179.7" width="3" height="14.8" fill="#26a69a"/>
<rect x="863.0" y="177.2" width="1" height="27.0" fill="#ef5350"/>
<rect x="862.0" y="178.4" width="3" height="13.5" fill="#ef5350"/>
<rect x="867.0" y="179.7" width="1" height="17.2" fill="#26a69a"/>
<rect x="866.0" y="187.0" width="3" height="9.3" fill="#26a69a"/>
<rect x="872.0" y="184.1" width="1" height="38.6" fill="#ef5350"/>
<rect x="871.0" y="184.6" width="3" height="33.9" fill="#ef5350"/>
<rect x="876.0" y="189.0" width="1" height="30.0" fill="#26a69a"/>
<rect x="875.0" y="196.9" width="3" height="20.9" fill="#26a69a"/>
<rect x="881.0" y="187.0" width="1" height="35.7" fill="#ef5350"/>
<rect x="880.0" y="196.9" width="3" height="24.6" fill="#ef5350"/>
<rect x="885.0" y="209.2" width="1" height="22.1" fill="#26a69a"/>
<rect x="884.0" y="214.1" width="3" height="6.1" fill="#26a69a"/>
<rect x="890.0" y="188.3" width="1" height="30.7" fill="#26a69a"/>
<rect x="889.0" y="194.4" width="3" height="19.7" fill="#26a69a"/>
<rect x="895.0" y="189.0" width="1" height="26.3" fill="#ef5350"/>
<rect x="894.0" y="194.9" width="3" height="14.3" fill="#ef5350"/>
<rect x="899.0" y="207.2" width="1" height="31.0" fill="#ef5350"/>
<rect x="898.0" y="209.2" width="3" height="29.0" fill="#ef5350"/>
<rect x="904.0" y="233.3" width="1" height="22.6" fill="#ef5350"/>
<rect x="903.0" y="236.2" width="3" height="18.4" fill="#ef5350"/>
<rect x="908.0" y="242.4" width="1" height="20.9" fill="#26a69a"/>
<rect x="907.0" y="244.8" width="3" height="9.8" fill="#26a69a"/>
<rect x="913.0" y="228.8" width="1" height="20.9" fill="#26a69a"/>
<rect x="912.0" y="244.1" width="3" height="4.4" fill="#26a69a"/>
<rect x="917.0" y="235.7" width="1" height="32.5" fill="#ef5350"/>
<rect x="916.0" y="243.6" width="3" height="24.6" fill="#ef5350"/>
<rect x="922.0" y="253.4" width="1" height="16.7" fill="#26a69a"/>
<rect x="921.0" y="264.5" width="3" height="3.7" fill="#26a69a"/>
<rect x="926.0" y="239.9" width="1" height="25.8" fill="#26a69a"/>
<rect x="925.0" y="244.8" width="3" height="20.4" fill="#26a69a"/>
<rect x="931.0" y="243.1" width="1" height="25.1" fill="#ef5350"/>
<rect x="930.0" y="244.8" width="3" height="22.9" fill="#ef5350"/>
<rect x="935.0" y="258.1" width="1" height="26.3" fill="#ef5350"/>
<rect x="934.0" y="261.3" width="3" height="22.1" fill="#ef5350"/>
<rect x="940.0" y="277.8" width="1" height="19.7" fill="#ef5350"/>
<rect x="939.0" y="282.7" width="3" height="4.2" fill="#ef5350"/>
<rect x="945.0" y="279.0" width="1" height="44.3" fill="#ef5350"/>
<rect x="944.0" y="285.9" width="3" height="31.2" fill="#ef5350"/>
<rect x="949.0" y="308.5" width="1" height="20.9" fill="#ef5350"/>
<rect x="948.0" y="317.1" width="3" height="7.4" fill="#ef5350"/>
<rect x="954.0" y="323.3" width="1" height="22.1" fill="#ef5350"/>
<rect x="953.0" y="323.3" width="3" height="19.7" fill="#ef5350"/>
<rect x="958.0" y="323.3" width="1" height="28.3" fill="#ef5350"/>
<rect x="957.0" y="332.6" width="3" height="5.4" fill="#ef5350"/>
<rect x="963.0" y="323.3" width="1" height="34.9" fill="#ef5350"/>
<rect x="962.0" y="337.5" width="3" height="1.7" fill="#ef5350"/>
<rect x="967.0" y="319.6" width="1" height="27.8" fill="#ef5350"/>
<rect x="966.0" y="338.0" width="3" height="8.6" fill="#ef5350"/>
<rect x="972.0" y="333.6" width="1" height="14.3" fill="#26a69a"/>
<rect x="971.0" y="341.7" width="3" height="4.9" fill="#26a69a"/>
<rect x="976.0" y="339.3" width="1" height="33.2" fill="#ef5350"/>
<rect x="975.0" y="341.7" width="3" height="29.5" fill="#ef5350"/>
<rect x="981.0" y="362.1" width="1" height="10.3" fill="#26a69a"/>
<rect x="980.0" y="368.8" width="3" height="1.7" fill="#26a69a"/>
<rect x="985.0" y="350.3" width="1" height="23.4" fill="#26a69a"/>
<rect x="984.0" y="352.3" width="3" height="17.7" fill="#26a69a"/>
<rect x="990.0" y="339.3" width="1" height="21.4" fill="#26a69a"/>
<rect x="989.0" y="345.4" width="3" height="8.6" fill="#26a69a"/>
<rect x="994.0" y="337.5" width="1" height="20.2" fill="#ef5350"/>
<rect x="993.0" y="345.4" width="3" height="8.6" fill="#ef5350"/>
<rect x="998.0" y="344.2" width="1" height="15.5" fill="#ef5350"/>
<rect x="997.0" y="349.8" width="3" height="3.0" fill="#ef5350"/>
<rect x="1003.0" y="346.6" width="1" height="23.4" fill="#ef5350"/>
<rect x="1002.0" y="347.4" width="3" height="21.4" fill="#ef5350"/>
<rect x="1007.0" y="360.2" width="1" height="13.5" fill="#ef5350"/>
<rect x="1006.0" y="368.0" width="3" height="2.5" fill="#ef5350"/>
<line x1="7.0" y1="353.2" x2="1149.5" y2="353.2" stroke="#0c3299" stroke-width="3.6"/>
<line x1="651" y1="270.0" x2="1149.5" y2="270.0" stroke="#0c3299" stroke-width="3.6"/>
<line x1="763.2" y1="322.3" x2="1149.5" y2="322.3" stroke="#0c3299" stroke-width="3.6"/>
<line x1="66.4" y1="66.6" x2="1149.5" y2="216.1" stroke="#0c3299" stroke-width="3.4" stroke-linecap="round"/>
</g>
<line x1="1149.5" y1="3.5" x2="1149.5" y2="696.9" stroke="#e0e1e5" stroke-width="1.1"/>
<line x1="7.0" y1="512.4" x2="1216.6" y2="512.4" stroke="#e0e1e5" stroke-width="1.2"/>
<line x1="7.0" y1="669.4" x2="1216.6" y2="669.4" stroke="#e0e1e5" stroke-width="1.2"/>
<rect x="6.9" y="3.6" width="1209.9" height="693.2" fill="none" stroke="#eceef2" stroke-width="2.2"/>
<text x="15.5" y="22.7" font-size="12" fill="#131722" textLength="63" lengthAdjust="spacingAndGlyphs">NZDUSD, 1D</text>
<text x="123.5" y="22.5" font-size="12" fill="#131722" textLength="6.6" lengthAdjust="spacingAndGlyphs">O</text>
<text x="130.8" y="22.5" font-size="12" fill="#ef5350" textLength="42" lengthAdjust="spacingAndGlyphs">0.67512</text>
<text x="180.7" y="22.5" font-size="12" fill="#131722" textLength="6.2" lengthAdjust="spacingAndGlyphs">H</text>
<text x="188" y="22.5" font-size="12" fill="#ef5350" textLength="42.6" lengthAdjust="spacingAndGlyphs">0.67707</text>
<text x="237.9" y="22.5" font-size="12" fill="#131722" textLength="4.9" lengthAdjust="spacingAndGlyphs">L</text>
<text x="243.8" y="22.5" font-size="12" fill="#ef5350" textLength="41.6" lengthAdjust="spacingAndGlyphs">0.67353</text>
<text x="293.7" y="22.5" font-size="12" fill="#131722" textLength="6.0" lengthAdjust="spacingAndGlyphs">C</text>
<text x="300.4" y="22.5" font-size="12" fill="#ef5350" textLength="42.6" lengthAdjust="spacingAndGlyphs">0.67428</text>
<text x="350" y="22.5" font-size="12" fill="#ef5350" textLength="97.7" lengthAdjust="spacingAndGlyphs">−0.00084 (−0.12%)</text>
<g clip-path="url(#ax)">
<text x="1159" y="13.5" font-size="12" fill="#131722" textLength="42" lengthAdjust="spacingAndGlyphs">0.76000</text>
<text x="1159" y="55.8" font-size="12" fill="#131722" textLength="42" lengthAdjust="spacingAndGlyphs">0.75000</text>
<text x="1159" y="98.1" font-size="12" fill="#131722" textLength="42" lengthAdjust="spacingAndGlyphs">0.74000</text>
<text x="1159" y="140.5" font-size="12" fill="#131722" textLength="42" lengthAdjust="spacingAndGlyphs">0.73000</text>
<text x="1159" y="182.8" font-size="12" fill="#131722" textLength="42" lengthAdjust="spacingAndGlyphs">0.72000</text>
<text x="1159" y="225.1" font-size="12" fill="#131722" textLength="42" lengthAdjust="spacingAndGlyphs">0.71000</text>
<text x="1159" y="267.4" font-size="12" fill="#131722" textLength="42" lengthAdjust="spacingAndGlyphs">0.70000</text>
<text x="1159" y="309.8" font-size="12" fill="#131722" textLength="42" lengthAdjust="spacingAndGlyphs">0.69000</text>
<text x="1159" y="352.1" font-size="12" fill="#131722" textLength="42" lengthAdjust="spacingAndGlyphs">0.68000</text>
<text x="1159" y="394.4" font-size="12" fill="#131722" textLength="42" lengthAdjust="spacingAndGlyphs">0.67000</text>
<text x="1159" y="436.7" font-size="12" fill="#131722" textLength="42" lengthAdjust="spacingAndGlyphs">0.66000</text>
<text x="1159" y="479.0" font-size="12" fill="#131722" textLength="42" lengthAdjust="spacingAndGlyphs">0.65000</text>
</g>
<text x="1159.3" y="533.8" font-size="12" fill="#131722" textLength="29" lengthAdjust="spacingAndGlyphs">80.00</text>
<text x="1159.3" y="577.3" font-size="12" fill="#131722" textLength="29" lengthAdjust="spacingAndGlyphs">60.00</text>
<text x="1159.3" y="620.8" font-size="12" fill="#131722" textLength="29" lengthAdjust="spacingAndGlyphs">40.00</text>
<text x="1159.3" y="664.3" font-size="12" fill="#131722" textLength="29" lengthAdjust="spacingAndGlyphs">20.00</text>
<text x="75.4" y="687.3" font-size="11.6" fill="#131722" text-anchor="middle">Mar</text>
<text x="179.5" y="687.3" font-size="11.6" fill="#131722" text-anchor="middle">Apr</text>
<text x="279.4" y="687.3" font-size="11.6" fill="#131722" text-anchor="middle">May</text>
<text x="374.6" y="687.3" font-size="11.6" fill="#131722" text-anchor="middle">Jun</text>
<text x="473.3" y="687.3" font-size="11.6" fill="#131722" text-anchor="middle">Jul</text>
<text x="573.2" y="687.3" font-size="11.6" fill="#131722" text-anchor="middle">Aug</text>
<text x="673.2" y="687.3" font-size="11.6" fill="#131722" text-anchor="middle">Sep</text>
<text x="772.4" y="687.3" font-size="11.6" fill="#131722" text-anchor="middle">Oct</text>
<text x="867.4" y="687.3" font-size="11.6" fill="#131722" text-anchor="middle">Nov</text>
<text x="967.4" y="687.3" font-size="11.6" fill="#131722" text-anchor="middle">Dec</text>
<text x="1071.3" y="687.3" font-size="11.6" fill="#131722" text-anchor="middle" font-weight="bold">2022</text>
<text x="1140.5" y="81.0" font-size="12" fill="#1b5e20" text-anchor="end" textLength="56.5" lengthAdjust="spacingAndGlyphs">0(0.74551)</text>
<text x="1139.5" y="380.3" font-size="12" fill="#1b5e20" text-anchor="end" textLength="79.5" lengthAdjust="spacingAndGlyphs">0.382(0.67490)</text>
<text x="1140.6" y="472.2" font-size="12" fill="#004d40" text-anchor="end" textLength="67.2" lengthAdjust="spacingAndGlyphs">0.5(0.65310)</text>
<path d="M1149.2,228.1 H1205.9 Q1207.9,228.1 1207.9,230.1 V243.0 Q1207.9,245.0 1205.9,245.0 H1149.2 Z" fill="#0c3299"/>
<text x="1159" y="240.9" font-size="12" font-weight="bold" fill="#fff" textLength="42" lengthAdjust="spacingAndGlyphs">0.70518</text>
<path d="M1149.2,245.0 H1205.9 Q1207.9,245.0 1207.9,247.0 V259.9 Q1207.9,261.9 1205.9,261.9 H1149.2 Z" fill="#b71c1c"/>
<text x="1159" y="257.8" font-size="12" font-weight="bold" fill="#fff" textLength="42" lengthAdjust="spacingAndGlyphs">0.69851</text>
<path d="M1149.2,261.9 H1205.9 Q1207.9,261.9 1207.9,263.9 V276.8 Q1207.9,278.8 1205.9,278.8 H1149.2 Z" fill="#0c3299"/>
<text x="1159" y="274.7" font-size="12" font-weight="bold" fill="#fff" textLength="42" lengthAdjust="spacingAndGlyphs">0.69831</text>
<path d="M1149.2,314.2 H1205.9 Q1207.9,314.2 1207.9,316.2 V329.0 Q1207.9,331.0 1205.9,331.0 H1149.2 Z" fill="#0c3299"/>
<text x="1159" y="326.9" font-size="12" font-weight="bold" fill="#fff" textLength="42" lengthAdjust="spacingAndGlyphs">0.68595</text>
<path d="M1149.2,344.8 H1205.9 Q1207.9,344.8 1207.9,346.8 V359.8 Q1207.9,361.8 1205.9,361.8 H1149.2 Z" fill="#0c3299"/>
<text x="1159" y="357.6" font-size="12" font-weight="bold" fill="#fff" textLength="42" lengthAdjust="spacingAndGlyphs">0.67872</text>
<path d="M1149.2,363 H1209.7 Q1211.7,363 1211.7,365 V392 Q1211.7,394 1209.7,394 H1149.2 Z" fill="#ef5350"/>
<text x="1159" y="376.2" font-size="12" font-weight="bold" fill="#fff" textLength="42" lengthAdjust="spacingAndGlyphs">0.67428</text>
<text x="1159" y="390.2" font-size="12" fill="#fff" fill-opacity="0.85" textLength="47" lengthAdjust="spacingAndGlyphs">01:41:00</text>
<rect x="1170" y="10.8" width="26.2" height="17.3" rx="3" fill="#fff" stroke="#e0e1e5" stroke-width="1"/>
<text x="1183.1" y="23.6" font-size="12" fill="#131722" text-anchor="middle" textLength="20" lengthAdjust="spacingAndGlyphs">USD</text>
<path d="M1149.2,629.4 H1192.5 Q1194.5,629.4 1194.5,631.4 V644 Q1194.5,646 1192.5,646 H1149.2 Z" fill="#7e57c2"/>
<text x="1159.3" y="642.0" font-size="12" font-weight="bold" fill="#fff" textLength="29" lengthAdjust="spacingAndGlyphs">30.42</text>
<rect x="79" y="390.6" width="399.7" height="59" fill="#fff"/>
<g fill="#083a4f">
<path d="M81.7,392.2 H127.4 V406.2 H97.7 V415 H124.7 V429.3 H97.7 V449.4 H81.7 Z"/>
</g>
<path fill="#0fb35a" fill-rule="evenodd" d="M161.2,390.9 C178,390.9 190.5,403.5 190.5,420.5 C190.5,437.5 178,450 161.2,450 C144.4,450 131.9,437.5 131.9,420.5 C131.9,403.5 144.4,390.9 161.2,390.9 Z M160.85,399.1 C153.5,399.1 148.4,408 148.4,421 C148.4,434 153.5,442.8 160.85,442.8 C168.2,442.8 173.3,434 173.3,421 C173.3,408 168.2,399.1 160.85,399.1 Z"/>
<path fill="#0fb35a" d="M165,413.7 H198.8 L196.9,418.6 H163.5 Z M163.7,424 H197.6 L195.9,429.2 H162.3 Z"/>
<g fill="#083a4f">
<path fill-rule="evenodd" d="M204,392 H232.2 C246,392 255.1,399.5 255.1,410.8 C255.1,419.5 250.5,426 243.4,429.5 L256.4,449.5 H238.5 L226.8,432 H219.9 V449.5 H204 Z M219.9,405.5 V420 H231.5 C236.5,420 239.5,417.2 239.5,412.7 C239.5,408.3 236.5,405.5 231.5,405.5 Z"/>
<path d="M263.2,392 H308.6 V405.5 H278.6 V414.3 H306.3 V427 H278.6 V435.9 H309.1 V449.5 H263.2 Z"/>
<path d="M316,392 H331.4 L343.4,408.2 L354.9,392 H371 L352.5,420.2 L372.2,449.3 H353.4 L343.4,432.7 L332.1,449.3 H314.5 L334.3,420.2 Z"/>
<circle cx="381.4" cy="429.1" r="4.6"/>
<path d="M409.0,416.3 A11.2,11.9 0 1,0 409.0,428.1 L403.9,425.6 A4.9,4.7 0 1,1 403.9,418.8 Z"/>
<path fill-rule="evenodd" d="M425.1,410.3 A12.3,11.9 0 1,1 425.1,434.1 A12.3,11.9 0 1,1 425.1,410.3 Z M425.15,417.5 A5.15,4.9 0 1,0 425.15,427.3 A5.15,4.9 0 1,0 425.15,417.5 Z"/>
<path d="M441.5,433.3 V411.2 H449.1 V413.6 C450.6,411.4 453,410.3 455.5,410.3 C458.5,410.3 461,411.6 462.3,413.8 C464,411.5 466.8,410.3 469.8,410.3 C475,410.3 478,414 478,419.5 V433.3 H470.6 V421.3 C470.6,418.8 469.5,417.5 467.2,417.5 C464.9,417.5 463.4,419 463.4,421.5 V433.3 H456.3 V421.3 C456.3,418.8 455.2,417.5 452.9,417.5 C450.6,417.5 449.1,419 449.1,421.5 V433.3 Z"/>
</g>
<g fill="#131722"><path d="M6.95,709.05 H14.66 V718.7 H11.05 V712.8 H6.95 Z"/><circle cx="17.93" cy="711.0" r="1.85"/><path d="M21.9,709.05 H26.6 L22.85,718.7 H18.3 Z"/></g>
<text x="30.2" y="718.8" font-size="12.3" fill="#131722" textLength="70" lengthAdjust="spacingAndGlyphs">TradingView</text>
</svg></body></html>
